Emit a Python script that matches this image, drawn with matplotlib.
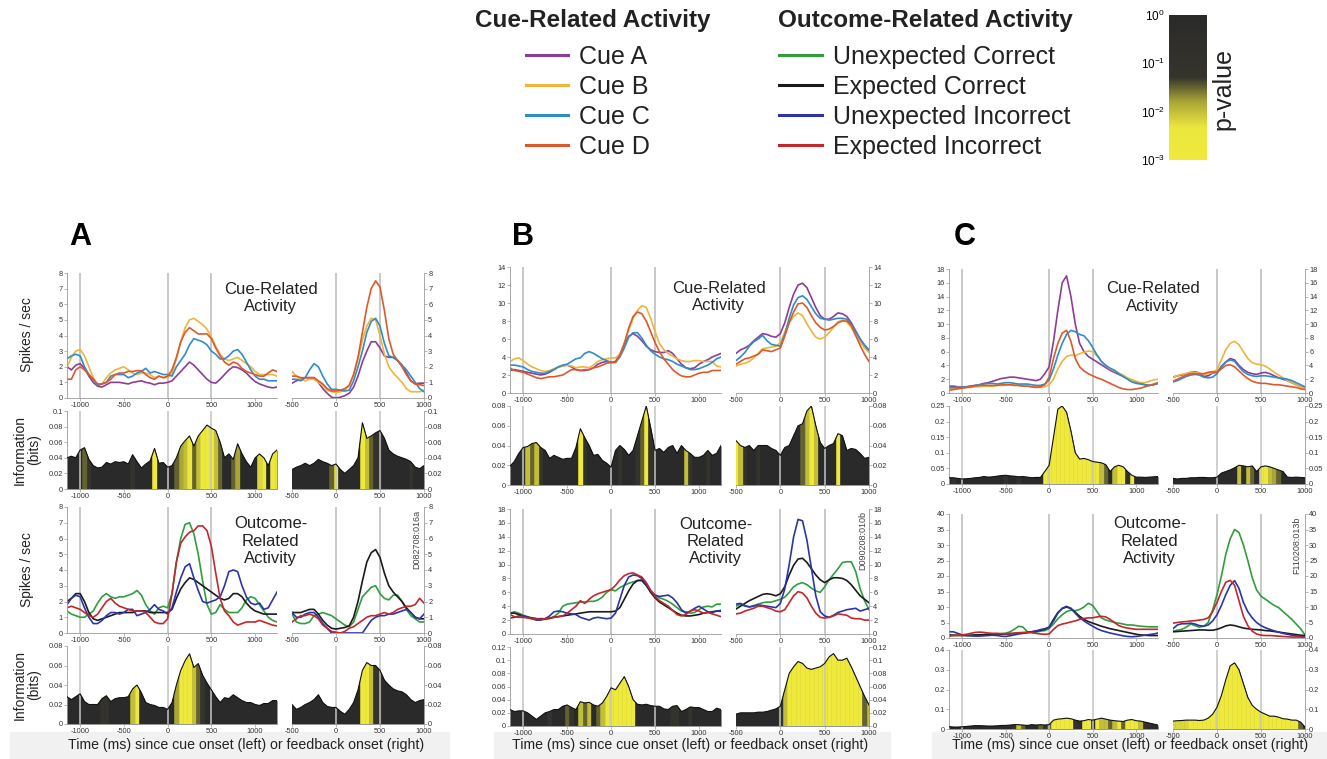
import numpy as np
import matplotlib
matplotlib.use('Agg')
import matplotlib.pyplot as plt
import matplotlib.cm as cm
from matplotlib.colors import LinearSegmentedColormap, LogNorm
from matplotlib.lines import Line2D
from matplotlib.patches import Rectangle
from matplotlib.ticker import FuncFormatter

plt.rcParams['font.family'] = ['Liberation Sans', 'DejaVu Sans']

# ---------------- data ----------------
t_left = np.arange(-1150, 1251, 50)   # cue-aligned time (ms)
t_right = np.arange(-500, 1001, 50)   # feedback-aligned time (ms)

cue_labels = ['Cue A', 'Cue B', 'Cue C', 'Cue D']
out_labels = ['Unexpected Correct', 'Expected Correct', 'Unexpected Incorrect', 'Expected Incorrect']
cue_colors = ['#8c3d97', '#efb43c', '#2f8ccb', '#db5a2c']
out_colors = ['#2f9e3c', '#1b1b1b', '#2b35a6', '#c2272d']
cell_ids = ['D082708:016a', 'D090208:010b', 'F110208:013b']

# ---- panel A ----
A_cue_L_a = [2.0, 1.8, 2.1, 2.2, 1.9, 1.4, 1.0, 0.75, 0.7, 0.85,
             1.0, 1.0, 1.0, 0.95, 0.9, 1.0, 1.05, 1.1, 1.0, 0.95,
             0.85, 0.95, 0.95, 1.0, 1.1, 1.4, 1.7, 2.0, 2.3, 2.1,
             1.8, 1.5, 1.2, 1.0, 0.95, 1.2, 1.5, 1.8, 2.0, 1.95,
             1.8, 1.6, 1.3, 1.05, 0.9, 0.8, 0.7, 0.65, 0.7]
A_cue_L_b = [2.0, 2.6, 3.0, 3.1, 2.7, 2.0, 1.3, 0.85, 0.9, 1.3,
             1.6, 1.8, 1.9, 2.0, 1.8, 1.6, 1.5, 1.6, 1.6, 1.5,
             1.3, 1.4, 1.3, 1.3, 1.6, 2.5, 3.6, 4.5, 5.0, 5.1,
             4.9, 4.7, 4.4, 3.9, 3.3, 2.8, 2.5, 2.4, 2.5, 2.6,
             2.4, 2.2, 2.0, 1.7, 1.5, 1.5, 1.5, 1.5, 1.4]
A_cue_L_c = [2.5, 2.7, 2.8, 2.7, 2.0, 1.5, 1.2, 0.8, 0.9, 1.0,
             1.4, 1.5, 1.5, 1.5, 1.3, 1.4, 1.6, 1.7, 1.9, 1.6,
             1.7, 1.6, 1.5, 1.5, 1.4, 2.0, 2.4, 2.8, 3.4, 3.8,
             3.7, 3.6, 3.4, 3.0, 2.8, 2.5, 2.5, 2.7, 3.0, 3.1,
             2.8, 2.3, 1.8, 1.4, 1.2, 1.2, 1.1, 1.1, 1.1]
A_cue_L_d = [1.2, 1.2, 1.8, 2.0, 1.8, 1.5, 1.2, 0.9, 0.9, 1.0,
             1.2, 1.5, 1.6, 1.6, 1.7, 1.7, 1.75, 1.75, 1.5, 1.3,
             1.2, 1.4, 1.3, 1.4, 1.8, 2.6, 3.6, 4.2, 4.5, 4.3,
             4.1, 4.1, 4.1, 3.8, 3.2, 2.7, 2.3, 2.1, 2.3, 2.2,
             1.9, 1.7, 1.6, 1.5, 1.4, 1.4, 1.6, 1.8, 1.7]
A_cue_R_a = [0.95, 1.1, 1.2, 1.3, 1.3, 1.3, 1.0, 0.6, 0.3, 0.05,
             0.0, 0.05, 0.15, 0.3, 0.7, 1.4, 2.3, 3.0, 3.6, 3.6,
             3.2, 2.7, 2.6, 2.6, 2.4, 2.1, 1.6, 1.1, 0.9, 0.95, 0.95]
A_cue_R_b = [1.7, 1.4, 1.2, 1.1, 1.2, 1.2, 1.0, 0.8, 0.5, 0.4,
             0.35, 0.4, 0.5, 0.8, 1.5, 2.5, 3.7, 4.6, 5.1, 5.0,
             4.0, 2.8, 2.0, 1.6, 1.3, 1.0, 0.6, 0.4, 0.4, 0.4, 0.5]
A_cue_R_c = [1.2, 1.2, 1.1, 1.3, 1.8, 2.2, 2.0, 1.4, 0.9, 0.55,
             0.55, 0.5, 0.45, 0.5, 1.1, 2.0, 3.0, 4.2, 4.9, 5.1,
             4.6, 3.5, 2.7, 2.6, 2.4, 2.1, 1.8, 1.4, 1.0, 0.6, 0.4]
A_cue_R_d = [1.4, 1.4, 1.3, 1.3, 1.3, 1.3, 1.1, 0.9, 0.6, 0.45,
             0.45, 0.5, 0.6, 0.8, 1.5, 2.6, 4.2, 5.8, 7.0, 7.5,
             7.1, 5.6, 3.8, 2.8, 2.4, 2.0, 1.5, 1.1, 0.9, 0.85, 0.8]
A_cue_info_L = [0.040, 0.042, 0.040, 0.050, 0.053, 0.038, 0.030, 0.027, 0.028, 0.034,
                0.032, 0.035, 0.034, 0.035, 0.032, 0.044, 0.035, 0.027, 0.032, 0.036,
                0.052, 0.033, 0.034, 0.028, 0.030, 0.040, 0.055, 0.062, 0.068, 0.055,
                0.068, 0.075, 0.082, 0.078, 0.075, 0.060, 0.040, 0.045, 0.038, 0.058,
                0.045, 0.035, 0.028, 0.040, 0.045, 0.040, 0.030, 0.045, 0.050]
A_cue_sig_L = [0, 0, 0, 0, 1.5, 1.2, 0, 0, 0, 0,
               0, 0, 0, 0, 0, 1.0, 0, 0, 0, 0,
               3, 0, 0, 0, 0, 1.5, 1.8, 2.0, 2.5, 1.5,
               2.0, 2.5, 3, 3, 2.0, 1.5, 0, 0, 1.5, 1.8,
               0, 0, 0, 0, 2.2, 2.5, 0, 2.5, 2.5]
A_cue_info_R = [0.025, 0.028, 0.030, 0.033, 0.030, 0.033, 0.038, 0.035, 0.033, 0.030,
                0.032, 0.025, 0.020, 0.025, 0.030, 0.040, 0.085, 0.065, 0.068, 0.072,
                0.075, 0.065, 0.050, 0.045, 0.042, 0.040, 0.038, 0.035, 0.028, 0.026, 0.030]
A_cue_sig_R = [0, 0, 0, 0, 0, 0, 0, 0, 0, 1.5,
               2.5, 0, 0, 0, 0, 0, 3, 2.0, 1.5, 1.2,
               1.0, 0, 0, 0, 0, 0, 0, 1.0, 0, 0, 0]
A_out_L_uc = [1.4, 1.2, 1.1, 1.0, 1.0, 1.2, 1.4, 1.9, 2.3, 2.5,
              2.3, 2.2, 2.3, 2.3, 2.4, 2.5, 2.7, 2.4, 1.8, 1.4,
              1.2, 1.6, 1.7, 1.6, 2.5, 4.5, 6.0, 6.9, 7.0, 6.3,
              5.0, 3.3, 1.8, 1.2, 1.3, 1.8, 1.5, 1.3, 1.3, 1.3,
              1.6, 2.1, 2.3, 2.2, 1.8, 1.4, 1.0, 0.8, 0.7]
A_out_L_ec = [2.0, 2.2, 2.5, 2.5, 2.0, 1.3, 0.9, 0.8, 0.9, 1.0,
              1.1, 1.2, 1.3, 1.3, 1.3, 1.3, 1.4, 1.4, 1.4, 1.3,
              1.3, 1.3, 1.3, 1.3, 1.5, 2.2, 2.8, 3.2, 3.5, 3.4,
              3.2, 3.0, 2.8, 2.6, 2.4, 2.2, 2.1, 2.2, 2.5, 2.5,
              2.3, 1.9, 1.6, 1.4, 1.3, 1.2, 1.2, 1.2, 1.2]
A_out_L_ui = [1.8, 2.2, 2.4, 2.3, 1.6, 1.0, 0.6, 0.6, 0.8, 1.1,
              1.3, 1.3, 1.2, 1.3, 1.5, 1.5, 1.1, 1.2, 1.3, 1.5,
              1.8, 1.5, 1.4, 1.2, 1.6, 2.6, 3.5, 4.2, 4.4, 3.5,
              2.7, 2.0, 1.9, 2.0, 2.1, 2.3, 3.0, 3.9, 4.0, 3.9,
              3.0, 2.3, 1.9, 1.8, 1.9, 1.5, 1.6, 2.1, 2.6]
A_out_L_ei = [1.6, 1.7, 1.6, 1.5, 1.3, 1.1, 1.0, 1.2, 1.6, 2.0,
              2.2, 1.9, 1.7, 1.6, 1.5, 1.4, 1.4, 1.4, 1.3, 1.0,
              0.7, 0.6, 0.6, 0.9, 2.5, 4.5, 5.7, 6.1, 6.4, 6.5,
              6.8, 6.8, 6.5, 5.5, 3.8, 2.2, 1.4, 1.1, 0.7, 0.5,
              0.6, 0.7, 0.7, 0.7, 0.8, 0.7, 0.6, 0.5, 0.45]
A_out_R_uc = [1.2, 0.7, 0.6, 0.6, 0.7, 1.1, 1.2, 1.3, 1.2, 1.1,
              0.9, 0.7, 0.5, 0.4, 0.7, 1.5, 2.3, 2.6, 2.9, 3.0,
              2.5, 2.2, 2.1, 2.4, 2.4, 2.0, 1.5, 1.1, 0.9, 0.7, 0.7]
A_out_R_ec = [1.3, 1.3, 1.3, 1.4, 1.5, 1.5, 1.2, 0.8, 0.5, 0.3,
              0.25, 0.3, 0.35, 0.45, 1.0, 2.0, 3.3, 4.5, 5.1, 5.3,
              4.8, 3.8, 3.0, 2.6, 2.3, 2.0, 1.6, 1.3, 1.0, 0.9, 0.9]
A_out_R_ui = [1.3, 1.0, 1.0, 1.2, 1.3, 1.3, 1.0, 0.6, 0.3, 0.0,
              0.0, 0.0, 0.0, 0.0, 0.0, 0.0, 0.0, 0.4, 0.8, 1.0,
              1.1, 1.1, 1.2, 1.2, 1.3, 1.4, 1.5, 1.3, 1.0, 0.9, 1.2]
A_out_R_ei = [0.7, 0.9, 1.1, 1.1, 1.2, 1.1, 0.9, 0.5, 0.3, 0.1,
              0.05, 0.0, 0.1, 0.3, 0.4, 0.6, 0.8, 1.0, 1.1, 1.1,
              1.2, 1.3, 1.2, 1.3, 1.5, 1.6, 1.7, 1.7, 1.8, 2.2, 1.9]
A_out_info_L = [0.028, 0.025, 0.028, 0.031, 0.023, 0.020, 0.020, 0.020, 0.026, 0.029,
                0.023, 0.026, 0.027, 0.027, 0.028, 0.036, 0.040, 0.032, 0.022, 0.020,
                0.019, 0.017, 0.017, 0.015, 0.022, 0.040, 0.055, 0.065, 0.072, 0.058,
                0.062, 0.050, 0.042, 0.035, 0.028, 0.022, 0.027, 0.026, 0.030, 0.027,
                0.024, 0.022, 0.022, 0.020, 0.019, 0.021, 0.021, 0.024, 0.024]
A_out_sig_L = [0, 0, 0, 0, 0, 0, 0, 0, 1.0, 1.0,
               0, 0, 0, 0, 0, 2.0, 2.5, 0, 0, 0,
               0, 0, 0, 0, 0, 1.8, 2.5, 3, 3, 2.0,
               1.5, 1.2, 0, 0, 0, 0, 0, 0, 0, 0,
               0, 0, 0, 0, 0, 0, 0, 0, 0]
A_out_info_R = [0.020, 0.015, 0.017, 0.020, 0.022, 0.025, 0.030, 0.022, 0.018, 0.017,
                0.017, 0.013, 0.010, 0.015, 0.022, 0.035, 0.055, 0.063, 0.060, 0.060,
                0.055, 0.045, 0.040, 0.036, 0.034, 0.033, 0.030, 0.025, 0.022, 0.024, 0.025]
A_out_sig_R = [0, 0, 0, 0, 0, 0, 0, 0, 0, 0,
               0, 0, 0, 0, 0, 0, 2.5, 3, 2.0, 1.3,
               1.0, 0, 0, 0, 0, 0, 0, 0, 0, 0, 0]

# ---- panel B ----
B_cue_L_a = [2.5, 2.6, 2.5, 2.4, 2.3, 2.2, 2.1, 2.0, 2.1, 2.3,
             2.6, 2.9, 3.0, 3.1, 2.9, 2.6, 2.5, 2.5, 2.6, 2.8,
             3.2, 3.4, 3.5, 3.4, 3.5, 4.3, 5.4, 6.3, 6.6, 6.3,
             5.8, 5.2, 4.8, 4.6, 4.5, 4.5, 4.7, 4.4, 3.8, 3.2,
             2.8, 2.7, 2.8, 3.2, 3.5, 3.7, 4.0, 4.2, 4.4]
B_cue_L_b = [3.5, 3.8, 3.9, 3.6, 3.2, 2.9, 2.7, 2.5, 2.4, 2.5,
             2.7, 2.9, 3.0, 3.1, 3.0, 2.8, 2.9, 2.9, 2.8, 3.1,
             3.5, 3.7, 3.8, 3.9, 3.9, 4.3, 5.5, 7.0, 8.3, 9.2,
             9.7, 9.5, 8.3, 6.8, 5.5, 4.8, 4.4, 4.1, 3.8, 3.6,
             3.5, 3.5, 3.6, 3.6, 3.5, 3.5, 3.5, 3.0, 2.9]
B_cue_L_c = [3.1, 3.1, 3.0, 2.9, 2.6, 2.4, 2.3, 2.2, 2.2, 2.4,
             2.6, 2.9, 3.1, 3.2, 3.5, 3.8, 3.9, 4.4, 4.6, 4.4,
             4.1, 3.8, 3.6, 3.4, 3.4, 4.0, 5.0, 6.2, 6.7, 6.7,
             6.1, 5.3, 4.7, 4.3, 4.0, 3.8, 3.7, 3.5, 3.2, 3.0,
             2.8, 2.6, 2.6, 2.7, 2.9, 3.1, 3.4, 3.8, 4.0]
B_cue_L_d = [2.8, 2.5, 2.4, 2.3, 2.1, 1.9, 1.7, 1.6, 1.7, 1.8,
             1.8, 1.9, 2.0, 2.3, 2.6, 2.6, 2.5, 2.6, 2.6, 2.8,
             2.9, 3.1, 3.3, 3.4, 3.4, 4.2, 5.5, 7.2, 8.5, 9.0,
             8.8, 8.0, 6.8, 5.6, 4.6, 3.8, 3.2, 2.6, 2.2, 1.9,
             1.8, 1.8, 2.0, 2.2, 2.3, 2.3, 2.5, 2.5, 2.5]
B_cue_R_a = [4.4, 4.8, 5.0, 5.3, 5.8, 6.2, 6.6, 6.5, 6.3, 6.2,
             6.6, 7.8, 9.5, 11.0, 12.0, 12.2, 11.7, 10.6, 9.5, 8.6,
             8.2, 8.2, 8.5, 8.9, 8.8, 8.5, 7.8, 6.9, 6.0, 5.3, 4.7]
B_cue_R_b = [3.0, 3.2, 3.3, 3.5, 3.9, 4.4, 4.9, 5.0, 5.1, 5.2,
             5.6, 6.8, 7.8, 8.5, 8.9, 8.6, 7.7, 6.9, 6.2, 6.0,
             6.2, 6.7, 7.3, 7.9, 8.1, 7.9, 7.3, 6.4, 5.7, 5.0, 4.5]
B_cue_R_c = [3.6, 4.0, 4.5, 5.2, 5.7, 6.0, 6.4, 5.8, 5.4, 5.3,
             5.2, 6.5, 8.3, 9.8, 10.6, 10.8, 10.4, 9.6, 8.8, 8.3,
             8.2, 8.1, 8.2, 8.3, 8.3, 8.2, 7.6, 6.8, 6.0, 5.3, 4.8]
B_cue_R_d = [3.2, 3.5, 3.8, 3.9, 4.1, 4.3, 4.8, 4.7, 4.6, 4.8,
             5.0, 6.3, 7.8, 9.0, 9.9, 10.0, 9.5, 8.6, 7.8, 7.3,
             7.0, 7.1, 7.4, 7.8, 8.0, 8.0, 7.5, 6.4, 5.3, 4.3, 3.5]
B_cue_info_L = [0.019, 0.024, 0.032, 0.038, 0.039, 0.042, 0.043, 0.038, 0.035, 0.027,
                0.030, 0.028, 0.026, 0.027, 0.027, 0.038, 0.057, 0.048, 0.040, 0.030,
                0.031, 0.025, 0.022, 0.018, 0.035, 0.040, 0.036, 0.030, 0.035, 0.050,
                0.065, 0.080, 0.058, 0.035, 0.037, 0.033, 0.038, 0.040, 0.032, 0.040,
                0.035, 0.032, 0.028, 0.028, 0.030, 0.035, 0.030, 0.032, 0.040]
B_cue_sig_L = [0, 0, 0, 1.2, 2.0, 1.5, 2.0, 1.2, 0, 0,
               0, 0, 0, 0, 0, 0, 3, 1.0, 0, 0,
               0, 0, 0, 0, 0, 1.0, 0, 0, 0, 1.0,
               1.5, 3, 1.0, 0, 0, 0, 0, 0, 0, 0,
               2.0, 1.2, 0, 0, 0, 1.2, 0, 0, 0]
B_cue_info_R = [0.045, 0.040, 0.038, 0.040, 0.035, 0.040, 0.040, 0.040, 0.037, 0.035,
                0.030, 0.038, 0.040, 0.050, 0.060, 0.062, 0.075, 0.080, 0.060, 0.043,
                0.037, 0.040, 0.042, 0.052, 0.050, 0.035, 0.037, 0.036, 0.032, 0.027, 0.028]
B_cue_sig_R = [2.5, 2.0, 1.0, 0, 0, 1.0, 0, 0, 0, 0,
               0, 0, 0, 0, 0, 1.5, 2.0, 3, 2.0, 0,
               0, 0, 0, 2.5, 0, 0, 0, 0, 0, 0, 0]
B_out_L_uc = [3.0, 3.2, 3.0, 2.7, 2.5, 2.3, 2.2, 2.1, 2.1, 2.2,
              2.5, 3.0, 4.0, 4.3, 4.4, 4.5, 4.6, 4.6, 4.7, 4.7,
              4.9, 5.3, 6.0, 6.4, 6.2, 6.7, 7.0, 7.3, 7.5, 7.7,
              7.8, 7.0, 6.2, 5.6, 5.2, 5.0, 4.7, 4.3, 3.8, 3.3,
              3.2, 3.0, 3.1, 3.5, 3.9, 4.0, 3.9, 4.3, 4.3]
B_out_L_ec = [3.0, 3.0, 2.8, 2.6, 2.4, 2.3, 2.2, 2.2, 2.2, 2.3,
              2.4, 2.5, 2.6, 2.7, 2.8, 2.9, 3.0, 3.1, 3.2, 3.2,
              3.2, 3.2, 3.2, 3.2, 3.3, 3.8, 5.0, 6.2, 7.2, 7.7,
              7.7, 7.0, 6.0, 5.2, 4.6, 4.2, 3.8, 3.4, 3.0, 2.7,
              2.6, 2.6, 2.7, 2.8, 3.0, 3.1, 3.2, 3.3, 3.3]
B_out_L_ui = [2.3, 2.4, 2.6, 2.6, 2.4, 2.2, 2.0, 2.0, 2.2, 2.6,
              3.2, 3.3, 3.2, 3.0, 2.9, 2.8, 2.4, 2.2, 2.0, 2.3,
              2.4, 2.3, 2.2, 2.3, 3.0, 5.0, 7.0, 8.2, 8.5, 8.4,
              8.0, 7.2, 6.2, 5.6, 5.4, 5.5, 5.6, 5.2, 4.5, 3.5,
              3.0, 3.3, 3.7, 4.0, 3.6, 3.2, 3.1, 3.3, 3.4]
B_out_L_ei = [2.8, 2.5, 2.4, 2.4, 2.3, 2.2, 2.2, 2.1, 2.2, 2.3,
              2.4, 2.5, 2.6, 3.0, 3.5, 4.0, 4.8, 4.4, 5.0, 5.5,
              5.8, 6.0, 6.2, 6.4, 7.0, 7.8, 8.4, 8.7, 8.8, 8.5,
              8.2, 7.4, 6.3, 5.4, 4.8, 4.4, 4.0, 3.4, 2.8, 2.6,
              2.8, 3.3, 3.5, 3.3, 3.0, 3.1, 2.9, 2.7, 2.5]
B_out_R_uc = [4.0, 4.3, 4.0, 3.9, 4.1, 4.3, 4.5, 4.6, 4.6, 4.8,
              5.0, 5.3, 6.0, 6.8, 7.2, 7.4, 7.1, 6.6, 6.2, 6.0,
              6.8, 7.8, 8.6, 9.4, 10.3, 10.4, 10.4, 9.0, 6.5, 4.8, 3.5]
B_out_R_ec = [3.6, 4.0, 4.4, 4.8, 5.1, 5.4, 5.7, 5.8, 5.7, 5.5,
              5.8, 6.8, 8.5, 9.9, 10.8, 10.9, 10.3, 9.4, 8.5, 7.8,
              7.4, 7.8, 8.1, 8.1, 8.0, 7.7, 7.1, 6.3, 5.5, 5.0, 4.5]
B_out_R_ui = [4.3, 4.4, 4.1, 3.9, 4.0, 4.2, 4.1, 4.0, 3.9, 3.8,
              4.4, 6.5, 10.0, 14.0, 16.5, 16.3, 13.5, 9.5, 5.5, 3.2,
              2.6, 2.4, 2.7, 3.1, 3.3, 3.5, 3.6, 3.7, 3.3, 3.5, 3.7]
B_out_R_ei = [2.9, 3.0, 3.3, 3.5, 3.7, 4.0, 4.0, 3.8, 3.6, 3.3,
              3.2, 3.5, 4.5, 5.5, 6.1, 5.9, 5.2, 4.0, 3.0, 2.4,
              2.3, 2.4, 2.6, 2.9, 2.8, 2.7, 2.3, 2.2, 2.2, 2.0, 2.0]
B_out_info_L = [0.025, 0.022, 0.023, 0.023, 0.020, 0.015, 0.010, 0.015, 0.020, 0.022,
                0.025, 0.025, 0.030, 0.032, 0.028, 0.025, 0.037, 0.035, 0.036, 0.032,
                0.030, 0.035, 0.045, 0.058, 0.055, 0.065, 0.075, 0.060, 0.040, 0.033,
                0.032, 0.033, 0.031, 0.030, 0.030, 0.026, 0.025, 0.030, 0.031, 0.022,
                0.025, 0.029, 0.028, 0.028, 0.025, 0.022, 0.022, 0.027, 0.025]
B_out_sig_L = [0, 0, 0, 0, 0, 0, 0, 0, 0, 1.0,
               0, 0, 0, 1.5, 1.2, 0, 2.0, 1.5, 2.0, 0,
               1.5, 2.0, 2.5, 3, 3, 3, 3, 3, 2.5, 0,
               0, 0, 0, 0, 0, 0, 0, 1.0, 1.2, 0,
               0, 1.2, 0, 0, 0, 0, 0, 0, 0]
B_out_info_R = [0.018, 0.020, 0.020, 0.020, 0.020, 0.021, 0.021, 0.022, 0.024, 0.026,
                0.030, 0.055, 0.080, 0.090, 0.098, 0.095, 0.088, 0.086, 0.088, 0.090,
                0.095, 0.105, 0.110, 0.100, 0.100, 0.103, 0.090, 0.075, 0.060, 0.045, 0.032]
B_out_sig_R = [0, 0, 0, 0, 0, 0, 0, 0, 0, 0,
               1.0, 2.0, 3, 3, 3, 3, 3, 3, 3, 3,
               3, 3, 3, 3, 3, 3, 3, 3, 3, 1.5, 2.0]

# ---- panel C ----
C_cue_L_a = [1.0, 1.0, 0.9, 0.9, 0.9, 1.0, 1.1, 1.2, 1.4, 1.5,
             1.7, 1.9, 2.1, 2.2, 2.3, 2.3, 2.2, 2.1, 2.0, 1.9,
             1.8, 2.0, 2.8, 3.8, 7.5, 12.0, 16.0, 17.0, 14.0, 10.0,
             7.2, 6.0, 5.3, 4.9, 4.5, 4.1, 3.7, 3.3, 3.0, 2.7,
             2.4, 2.1, 1.9, 1.6, 1.4, 1.2, 1.1, 1.2, 1.4]
C_cue_L_b = [0.6, 0.7, 0.8, 0.8, 0.8, 0.8, 0.9, 0.9, 1.0, 1.0,
             1.0, 1.1, 1.1, 1.1, 1.2, 1.2, 1.1, 1.0, 1.0, 0.9,
             0.9, 0.8, 0.9, 1.2, 2.0, 3.5, 4.6, 5.3, 5.5, 5.4,
             5.7, 5.9, 6.1, 6.0, 5.4, 4.6, 4.0, 3.5, 3.2, 2.9,
             2.6, 2.2, 1.9, 1.7, 1.5, 1.5, 1.7, 1.9, 2.0]
C_cue_L_c = [0.8, 0.8, 0.8, 0.8, 0.9, 1.0, 1.1, 1.2, 1.3, 1.4,
             1.4, 1.3, 1.4, 1.5, 1.5, 1.4, 1.3, 1.3, 1.3, 1.2,
             1.1, 1.1, 1.3, 1.9, 3.5, 5.5, 7.2, 8.5, 9.1, 8.9,
             8.5, 8.3, 7.6, 6.6, 5.5, 4.6, 4.0, 3.6, 3.3, 2.8,
             2.4, 2.0, 1.6, 1.4, 1.3, 1.2, 1.1, 1.2, 1.4]
C_cue_L_d = [0.4, 0.5, 0.6, 0.7, 0.8, 0.9, 1.0, 1.1, 1.1, 1.1,
             1.1, 1.1, 1.2, 1.2, 1.2, 1.1, 1.1, 1.0, 1.0, 0.9,
             0.8, 0.9, 1.2, 2.3, 5.0, 7.2, 8.7, 9.1, 7.5, 5.0,
             3.8, 3.2, 2.8, 2.5, 2.2, 2.0, 1.7, 1.4, 1.1, 0.8,
             0.6, 0.5, 0.5, 0.6, 0.7, 0.9, 1.1, 1.3, 1.5]
C_cue_R_a = [2.3, 2.5, 2.6, 2.8, 3.0, 3.1, 2.9, 2.4, 2.5, 2.9,
             3.0, 3.8, 4.5, 5.0, 4.8, 4.0, 3.4, 3.0, 2.8, 2.7,
             2.9, 3.0, 2.8, 2.5, 2.2, 2.0, 1.8, 1.5, 1.2, 0.9, 0.8]
C_cue_R_b = [2.3, 2.5, 2.7, 2.8, 3.0, 3.0, 2.9, 2.7, 2.8, 3.0,
             3.4, 4.8, 6.3, 7.2, 7.5, 7.0, 6.0, 5.0, 4.4, 4.2,
             4.1, 3.9, 3.5, 3.0, 2.6, 2.2, 1.8, 1.5, 1.2, 0.9, 0.7]
C_cue_R_c = [1.6, 1.8, 2.1, 2.4, 2.6, 2.7, 2.6, 2.3, 2.2, 2.3,
             2.8, 3.9, 4.5, 4.8, 4.6, 3.8, 3.1, 2.7, 2.5, 2.4,
             2.5, 2.5, 2.4, 2.3, 2.2, 2.1, 2.0, 1.8, 1.5, 1.2, 0.9]
C_cue_R_d = [1.7, 2.0, 2.3, 2.6, 2.8, 2.8, 2.8, 2.8, 3.0, 3.1,
             3.0, 3.5, 4.0, 4.1, 3.8, 3.2, 2.6, 2.1, 1.7, 1.5,
             1.4, 1.4, 1.3, 1.2, 1.2, 1.1, 1.0, 0.9, 0.8, 0.6, 0.5]
C_cue_info_L = [0.020, 0.020, 0.018, 0.016, 0.017, 0.018, 0.020, 0.021, 0.024, 0.022,
                0.023, 0.025, 0.027, 0.028, 0.026, 0.025, 0.023, 0.024, 0.022, 0.020,
                0.021, 0.021, 0.040, 0.060, 0.150, 0.240, 0.250, 0.230, 0.170, 0.100,
                0.080, 0.082, 0.078, 0.072, 0.070, 0.068, 0.062, 0.040, 0.055, 0.060,
                0.055, 0.040, 0.028, 0.022, 0.022, 0.021, 0.022, 0.023, 0.024]
C_cue_sig_L = [0, 1.0, 0, 0, 0, 0, 0, 0, 0, 0,
               0, 0, 0, 1.0, 0, 0, 1.0, 0, 0, 0,
               0, 0, 3, 3, 3, 3, 3, 3, 3, 3,
               3, 3, 3, 3, 2.5, 2.0, 1.5, 0, 2.0, 2.5,
               2.5, 0.8, 2.5, 0, 0, 0, 0, 0, 0]
C_cue_info_R = [0.018, 0.016, 0.018, 0.018, 0.020, 0.020, 0.021, 0.021, 0.020, 0.020,
                0.022, 0.035, 0.040, 0.045, 0.052, 0.060, 0.058, 0.055, 0.058, 0.040,
                0.055, 0.058, 0.055, 0.050, 0.045, 0.040, 0.022, 0.021, 0.022, 0.021, 0.020]
C_cue_sig_R = [0, 0, 0, 0, 0, 0, 0, 0, 0, 0,
               0, 0, 0, 0, 0, 2.0, 0.5, 2.0, 1.5, 0,
               2.5, 2.5, 2.0, 1.8, 1.5, 0, 0, 0, 0, 0, 0]
C_out_L_uc = [0.8, 0.8, 0.9, 1.0, 0.9, 0.8, 0.8, 0.9, 1.0, 1.1,
              1.2, 1.3, 1.4, 1.5, 2.0, 2.8, 3.8, 3.5, 2.0, 1.8,
              1.9, 2.2, 2.4, 3.0, 4.5, 6.2, 7.5, 8.5, 9.0, 8.8,
              9.2, 10.0, 11.2, 10.5, 8.5, 6.5, 5.8, 5.4, 5.0, 4.8,
              4.5, 4.2, 4.2, 4.0, 3.8, 3.7, 3.6, 3.6, 3.6]
C_out_L_ec = [1.0, 0.9, 0.8, 0.8, 0.8, 0.9, 1.0, 1.0, 1.1, 1.2,
              1.3, 1.3, 1.3, 1.3, 1.3, 1.4, 1.5, 1.6, 1.8, 2.0,
              2.2, 2.5, 2.8, 3.5, 6.0, 8.2, 9.5, 10.0, 9.5, 8.3,
              7.0, 6.0, 5.3, 4.8, 4.3, 3.8, 3.4, 3.0, 2.7, 2.4,
              2.1, 1.8, 1.5, 1.2, 1.0, 0.9, 0.8, 0.8, 0.8]
C_out_L_ui = [2.0, 2.0, 1.5, 1.0, 0.8, 0.7, 0.6, 0.6, 0.7, 0.8,
              0.9, 0.8, 0.6, 0.5, 0.7, 1.0, 1.3, 1.5, 1.7, 2.0,
              2.3, 2.7, 3.0, 3.5, 5.5, 8.0, 9.6, 10.2, 9.6, 8.0,
              6.5, 5.5, 4.6, 3.8, 3.0, 2.4, 2.0, 1.6, 1.3, 1.0,
              0.7, 0.5, 0.4, 0.5, 0.7, 0.9, 1.1, 1.3, 1.6]
C_out_L_ei = [0.6, 0.8, 0.9, 1.0, 1.2, 1.5, 1.8, 1.9, 1.8, 1.6,
              1.5, 1.5, 1.4, 1.4, 1.5, 1.6, 1.7, 1.8, 1.8, 1.7,
              1.5, 1.3, 1.2, 1.3, 2.8, 4.0, 4.5, 4.8, 5.2, 5.5,
              6.0, 6.3, 6.5, 6.5, 6.8, 7.0, 6.8, 6.0, 5.0, 4.0,
              3.5, 3.2, 3.0, 2.8, 2.8, 2.8, 2.8, 2.8, 2.8]
C_out_R_uc = [2.2, 2.5, 2.8, 3.5, 4.5, 4.0, 3.5, 3.8, 5.0, 9.0,
              14.0, 20.0, 27.0, 32.0, 35.0, 34.0, 30.0, 25.0, 19.5, 15.5,
              13.5, 12.5, 11.5, 10.5, 9.8, 8.5, 7.3, 6.0, 4.5, 3.0, 1.0]
C_out_R_ec = [2.0, 2.1, 2.2, 2.3, 2.4, 2.5, 2.6, 2.6, 2.5, 2.5,
              2.8, 3.3, 3.9, 4.2, 4.0, 3.6, 3.2, 3.0, 2.8, 2.7,
              2.6, 2.4, 2.3, 2.1, 1.9, 1.7, 1.5, 1.3, 1.1, 0.9, 0.8]
C_out_R_ui = [3.0, 4.2, 4.6, 4.6, 4.8, 4.5, 4.0, 3.8, 4.2, 5.5,
              7.5, 10.5, 14.0, 17.0, 18.5, 16.0, 11.5, 8.5, 6.5, 5.0,
              4.0, 3.3, 2.8, 2.3, 1.9, 1.5, 1.2, 0.9, 0.7, 0.5, 0.4]
C_out_R_ei = [4.8, 5.0, 5.2, 5.3, 5.5, 5.6, 5.8, 6.0, 6.5, 8.5,
              11.5, 15.0, 18.0, 18.6, 17.0, 12.0, 7.0, 4.0, 2.2, 1.3,
              0.9, 0.8, 0.8, 0.7, 0.6, 0.5, 0.4, 0.3, 0.3, 0.3, 0.2]
C_out_info_L = [0.012, 0.010, 0.010, 0.011, 0.013, 0.015, 0.017, 0.017, 0.016, 0.015,
                0.015, 0.016, 0.018, 0.018, 0.020, 0.022, 0.022, 0.020, 0.018, 0.022,
                0.020, 0.022, 0.020, 0.022, 0.045, 0.050, 0.052, 0.055, 0.052, 0.045,
                0.040, 0.042, 0.048, 0.045, 0.050, 0.055, 0.050, 0.045, 0.042, 0.040,
                0.038, 0.045, 0.048, 0.042, 0.040, 0.035, 0.030, 0.025, 0.020]
C_out_sig_L = [0, 0, 0, 0, 0, 0, 0, 0, 0, 0,
               0, 0, 0, 0, 0, 1.2, 2.0, 1.5, 0, 0,
               0, 1.5, 1.0, 1.5, 3, 3, 3, 3, 3, 1.0,
               0.5, 3, 3, 0, 3, 2.0, 2.0, 1.5, 2.0, 3,
               1.5, 3, 3, 2.5, 2.0, 1.0, 0.5, 0, 0]
C_out_info_R = [0.040, 0.042, 0.043, 0.045, 0.045, 0.045, 0.043, 0.045, 0.055, 0.075,
                0.110, 0.170, 0.250, 0.320, 0.335, 0.300, 0.230, 0.160, 0.120, 0.100,
                0.085, 0.075, 0.065, 0.065, 0.060, 0.052, 0.050, 0.045, 0.045, 0.035, 0.010]
C_out_sig_R = [2.2, 2.2, 2.2, 2.2, 3, 3, 3, 3, 3, 3,
               3, 3, 3, 3, 3, 3, 3, 3, 3, 3,
               3, 3, 3, 3, 3, 3, 3, 3, 3, 1.5, 0]

# y-axis settings per panel: (ylim, yticks) for cue spikes, cue info, outcome spikes, outcome info
A_axes = [(8, np.arange(0, 9, 1)), (0.1, np.arange(0, 0.101, 0.02)),
          (8, np.arange(0, 9, 1)), (0.08, np.arange(0, 0.081, 0.02))]
B_axes = [(14, np.arange(0, 15, 2)), (0.08, np.arange(0, 0.081, 0.02)),
          (18, np.arange(0, 19, 2)), (0.12, np.arange(0, 0.121, 0.02))]
C_axes = [(18, np.arange(0, 19, 2)), (0.25, np.arange(0, 0.251, 0.05)),
          (40, np.arange(0, 41, 5)), (0.4, np.arange(0, 0.41, 0.1))]

# ---------------- layout (pixels) ----------------
W, H = 1327, 759
def box(x0, y0, x1, y1):
    return [x0 / W, 1 - y1 / H, (x1 - x0) / W, (y1 - y0) / H]

layout = {
    'A': dict(L=(67, 277), R=(292, 424), rows=[(273, 398), (411, 489), (507, 633), (646, 724)],
              letter=(80, 237), xlab=246, bg=(10, 449), cue_txt=(0.97, 0.80), out_txt=(0.97, 0.73), id_x=0.947),
    'B': dict(L=(510, 721), R=(736, 869), rows=[(267, 393), (406, 485), (509, 634), (647, 726)],
              letter=(523, 237), xlab=690, bg=(494, 890), cue_txt=(0.99, 0.76), out_txt=(0.975, 0.74), id_x=0.955),
    'C': dict(L=(949, 1158), R=(1173, 1305), rows=[(269, 393), (406, 484), (514, 638), (650, 729)],
              letter=(965, 237), xlab=1130, bg=(932, 1327), cue_txt=(0.975, 0.77), out_txt=(0.96, 0.78), id_x=0.94),
}

panels = {
    'A': dict(cue=([A_cue_L_a, A_cue_L_b, A_cue_L_c, A_cue_L_d], [A_cue_R_a, A_cue_R_b, A_cue_R_c, A_cue_R_d]),
              cue_info=(A_cue_info_L, A_cue_info_R), cue_sig=(A_cue_sig_L, A_cue_sig_R),
              out=([A_out_L_uc, A_out_L_ec, A_out_L_ui, A_out_L_ei], [A_out_R_uc, A_out_R_ec, A_out_R_ui, A_out_R_ei]),
              out_info=(A_out_info_L, A_out_info_R), out_sig=(A_out_sig_L, A_out_sig_R), axes=A_axes),
    'B': dict(cue=([B_cue_L_a, B_cue_L_b, B_cue_L_c, B_cue_L_d], [B_cue_R_a, B_cue_R_b, B_cue_R_c, B_cue_R_d]),
              cue_info=(B_cue_info_L, B_cue_info_R), cue_sig=(B_cue_sig_L, B_cue_sig_R),
              out=([B_out_L_uc, B_out_L_ec, B_out_L_ui, B_out_L_ei], [B_out_R_uc, B_out_R_ec, B_out_R_ui, B_out_R_ei]),
              out_info=(B_out_info_L, B_out_info_R), out_sig=(B_out_sig_L, B_out_sig_R), axes=B_axes),
    'C': dict(cue=([C_cue_L_a, C_cue_L_b, C_cue_L_c, C_cue_L_d], [C_cue_R_a, C_cue_R_b, C_cue_R_c, C_cue_R_d]),
              cue_info=(C_cue_info_L, C_cue_info_R), cue_sig=(C_cue_sig_L, C_cue_sig_R),
              out=([C_out_L_uc, C_out_L_ec, C_out_L_ui, C_out_L_ei], [C_out_R_uc, C_out_R_ec, C_out_R_ui, C_out_R_ei]),
              out_info=(C_out_info_L, C_out_info_R), out_sig=(C_out_sig_L, C_out_sig_R), axes=C_axes),
}

# p-value colormap, position 0 = p 1e-3 (yellow), 1 = p 1 (dark)
pcmap = LinearSegmentedColormap.from_list(
    'pval', [(0.0, '#efe93c'), (0.22, '#ece73d'), (0.40, '#aaa636'), (0.57, '#35342c'), (1.0, '#2a2a2a')])
DARK = pcmap(1.0)
GRID = '#c4c4c4'
fmt = FuncFormatter(lambda v, p: f'{v:g}')

fig = plt.figure(figsize=(W / 100, H / 100), dpi=100)

def style(ax, side, ytop, yticks):
    if side == 'L':
        ax.set_xlim(-1150, 1250)
        ax.set_xticks([-1000, -500, 0, 500, 1000])
    else:
        ax.set_xlim(-500, 1000)
        ax.set_xticks([-500, 0, 500, 1000])
    ax.set_ylim(0, ytop)
    ax.set_yticks(yticks)
    ax.xaxis.set_major_formatter(fmt)
    ax.yaxis.set_major_formatter(fmt)
    ax.spines['top'].set_visible(False)
    ax.spines['right' if side == 'L' else 'left'].set_visible(False)
    for s in ('left', 'right', 'bottom'):
        ax.spines[s].set_color('#9a9a9a')
        ax.spines[s].set_linewidth(0.6)
    if side == 'R':
        ax.yaxis.tick_right()
    ax.tick_params(labelsize=5.3, length=2, width=0.5, pad=1, colors='#9a9a9a', labelcolor='#333333')
    ax.patch.set_alpha(0)

def spikes(ax, t, series, colors, side, ytop, yticks):
    for v in ([-1000, 0, 500] if side == 'L' else [0, 500]):
        ax.axvline(v, color=GRID, lw=1.3, zorder=1)
    for s, c in zip(series, colors):
        ax.plot(t, s, color=c, lw=1.2, zorder=2)
    style(ax, side, ytop, yticks)

def info(ax, t, vals, sig, side, ytop, yticks):
    poly = ax.fill_between(t, 0, vals, color=DARK, lw=0, zorder=1)
    cols = [pcmap((3 - s) / 3) for s in sig]
    bars = ax.bar(t, np.full(len(t), ytop), width=50, color=cols, edgecolor=cols, lw=0.4, zorder=1.5)
    clip = poly.get_paths()[0]
    for b in bars:
        b.set_clip_path(clip, ax.transData)
    for v in ([-1000, 0, 500] if side == 'L' else [0, 500]):
        ax.axvline(v, color=GRID, lw=1.1, zorder=2)
    ax.plot(t, vals, color='#111111', lw=0.8, zorder=3)
    style(ax, side, ytop, yticks)

for key in ['A', 'B', 'C']:
    lay = layout[key]
    d = panels[key]
    ax_cfg = d['axes']
    for side, (x0, x1), t, k in [('L', lay['L'], t_left, 0), ('R', lay['R'], t_right, 1)]:
        rows = lay['rows']
        ax = fig.add_axes(box(x0, rows[0][0], x1, rows[0][1]))
        spikes(ax, t, d['cue'][k], cue_colors, side, *ax_cfg[0])
        if side == 'L':
            ax.text(*lay['cue_txt'], 'Cue-Related\nActivity', transform=ax.transAxes, ha='center', va='center',
                    fontsize=12, linespacing=1.2, color='#222222', clip_on=False, zorder=5)
        ax = fig.add_axes(box(x0, rows[1][0], x1, rows[1][1]))
        info(ax, t, d['cue_info'][k], d['cue_sig'][k], side, *ax_cfg[1])
        ax = fig.add_axes(box(x0, rows[2][0], x1, rows[2][1]))
        spikes(ax, t, d['out'][k], out_colors, side, *ax_cfg[2])
        if side == 'L':
            ax.text(*lay['out_txt'], 'Outcome-\nRelated\nActivity', transform=ax.transAxes, ha='center',
                    va='center', fontsize=12, linespacing=1.2, color='#222222', clip_on=False, zorder=5)
        else:
            ax.text(lay['id_x'], 0.98, cell_ids['ABC'.index(key)], transform=ax.transAxes, rotation=90,
                    ha='center', va='top', fontsize=6.5, color='#444444')
        ax = fig.add_axes(box(x0, rows[3][0], x1, rows[3][1]))
        info(ax, t, d['out_info'][k], d['out_sig'][k], side, *ax_cfg[3])

    fig.text(lay['letter'][0] / W, 1 - lay['letter'][1] / H, key, fontsize=22, fontweight='bold',
             ha='center', va='center')
    bx0, bx1 = lay['bg']
    fig.patches.append(Rectangle((bx0 / W, 0), (bx1 - bx0) / W, 27 / H, transform=fig.transFigure,
                                 color='#f1f1f1', zorder=-1))
    fig.text(lay['xlab'] / W, 1 - 745 / H, 'Time (ms) since cue onset (left) or feedback onset (right)',
             fontsize=10.2, ha='center', va='center', color='#222222')

# y labels (panel A only)
for yc, lab in [(335, 'Spikes / sec'), (450, 'Information\n(bits)'), (570, 'Spikes / sec'), (685, 'Information\n(bits)')]:
    fig.text(27 / W, 1 - yc / H, lab, rotation=90, fontsize=10, ha='center', va='center',
             linespacing=1.0, color='#222222')

# legends (titles drawn separately so the gap below them can follow the reference)
cue_handles = [Line2D([], [], color=c, lw=2.2) for c in cue_colors]
out_handles = [Line2D([], [], color=c, lw=2.2) for c in out_colors]
leg_kw = dict(loc='upper center', frameon=False, fontsize=18, handlelength=1.7, handletextpad=0.45,
              labelspacing=0.24, borderpad=0, borderaxespad=0)
leg1 = fig.legend(cue_handles, cue_labels, bbox_to_anchor=(588 / W, 1 - 45 / H), **leg_kw)
leg2 = fig.legend(out_handles, out_labels, bbox_to_anchor=(925 / W, 1 - 45 / H), **leg_kw)
for lg in (leg1, leg2):
    for txt in lg.get_texts():
        txt.set_color('#222222')
fig.text(593 / W, 1 - 21 / H, 'Cue-Related Activity', fontsize=17.5, fontweight='bold',
         ha='center', va='center', color='#222222')
fig.text(925 / W, 1 - 21 / H, 'Outcome-Related Activity', fontsize=17.5, fontweight='bold',
         ha='center', va='center', color='#222222')

# p-value colour bar
cax = fig.add_axes(box(1169, 15, 1207, 160))
sm = cm.ScalarMappable(norm=LogNorm(1e-3, 1), cmap=pcmap)
cb = fig.colorbar(sm, cax=cax)
cb.outline.set_visible(False)
cb.set_ticks([1e-3, 1e-2, 1e-1, 1])
cax.yaxis.set_ticks_position('left')
cax.tick_params(length=0, labelsize=8.5, pad=3)
cax.minorticks_off()
fig.text(1223 / W, 1 - 89 / H, 'p-value', rotation=90, fontsize=18, ha='center', va='center', color='#222222')

fig.savefig('out.png', dpi=100)
